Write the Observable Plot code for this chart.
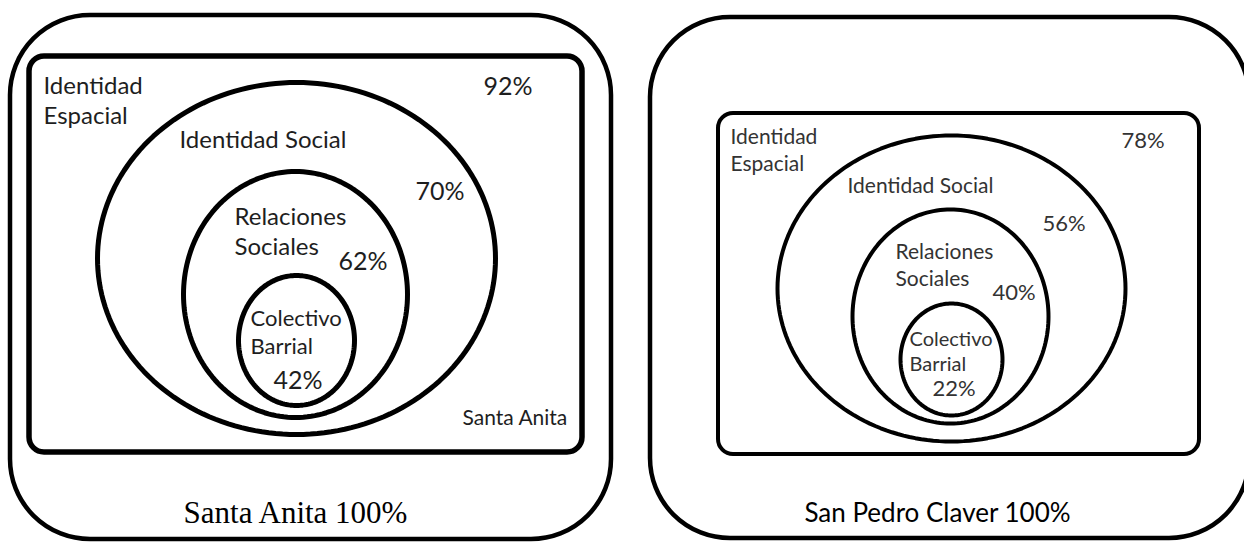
<!DOCTYPE html>
<html><head><meta charset="utf-8">
<script src="https://cdn.jsdelivr.net/npm/d3@7"></script>
<script src="https://cdn.jsdelivr.net/npm/@observablehq/plot@0.6"></script>
<style>body{margin:0;background:#fff}#chart svg{display:block}</style>
</head><body><div id="chart"></div>
<script>
// ---- data ----
const panels = ["Santa Anita", "San Pedro Claver"];
const levels = ["Identidad Espacial", "Identidad Social", "Relaciones Sociales", "Colectivo Barrial"];
const levelLabels = ["Identidad\nEspacial", "Identidad Social", "Relaciones\nSociales", "Colectivo\nBarrial"];
const santaAnitaValues = [92, 70, 62, 42];
const sanPedroValues = [78, 56, 40, 22];
const totalValue = 100;
const panelValues = [santaAnitaValues, sanPedroValues];
const innerTags = ["Santa Anita", ""];

// ---- layout (positions / sizes / styles) ----
const layout = [
  {
    frame: {x1: 10, y1: 15, x2: 611, y2: 539, r: 80, sw: 4.5},
    box: {x1: 29, y1: 56, x2: 582, y2: 452, r: 15, sw: 5.5},
    ell: [{cx: 296, cy: 258, rx: 199, ry: 176}, {cx: 295, cy: 294, rx: 112, ry: 123}, {cx: 296, cy: 340, rx: 58, ry: 65}],
    ellSw: 5,
    labelPos: [[43, 123], [179, 147], [234, 254], [250, 353]],
    labelSize: [24, 24, 24, 22],
    pctPos: [[483, 94], [415, 199], [338, 269], [273, 388]],
    pctSize: 25,
    tagPos: [462, 424], tagSize: 21,
    caption: {x: 295, y: 522, size: 31, font: "'Liberation Serif','Times New Roman',serif"},
    color: "#1e1e1e"
  },
  {
    frame: {x1: 650, y1: 17, x2: 1249, y2: 538, r: 80, sw: 4.5},
    box: {x1: 718, y1: 113, x2: 1199, y2: 454, r: 15, sw: 4},
    ell: [{cx: 951, cy: 288, rx: 174, ry: 153}, {cx: 950, cy: 316, rx: 98, ry: 107}, {cx: 951, cy: 359, rx: 51, ry: 56}],
    ellSw: 4,
    labelPos: [[730, 170], [847, 192], [895, 285], [909, 370]],
    labelSize: [21, 21, 21, 20],
    pctPos: [[1121, 147], [1042, 230], [992, 299], [932, 395]],
    pctSize: 22,
    tagPos: [0, 0], tagSize: 0,
    caption: {x: 937, y: 521, size: 26, font: "Lato, sans-serif"},
    color: "#333"
  }
];

const marks = [];
panels.forEach((p, i) => {
  const L = layout[i];
  const vals = panelValues[i];
  marks.push(Plot.rect([L.frame], {x1: "x1", x2: "x2", y1: "y1", y2: "y2", rx: L.frame.r, fill: "none", stroke: "#000", strokeWidth: L.frame.sw}));
  marks.push(Plot.rect([L.box], {x1: "x1", x2: "x2", y1: "y1", y2: "y2", rx: L.box.r, fill: "none", stroke: "#000", strokeWidth: L.box.sw}));
  const pts = [];
  L.ell.forEach((e, k) => {
    for (let t = 0; t < 180; t++) {
      const a = (t / 180) * 2 * Math.PI;
      pts.push({id: levels[k + 1], x: e.cx + e.rx * Math.cos(a), y: e.cy + e.ry * Math.sin(a)});
    }
  });
  marks.push(Plot.line(pts, {x: "x", y: "y", z: "id", curve: "linear-closed", stroke: "#000", strokeWidth: L.ellSw}));
  const labels = levels.map((lv, k) => ({text: levelLabels[k], x: L.labelPos[k][0], y: L.labelPos[k][1], size: L.labelSize[k]}));
  marks.push(Plot.text(labels, {x: "x", y: "y", text: "text", fontSize: "size", textAnchor: "start", lineAnchor: "bottom", lineHeight: 1.25, fontFamily: "Lato, sans-serif", fill: L.color}));
  const pcts = vals.map((v, k) => ({text: `${v}%`, x: L.pctPos[k][0], y: L.pctPos[k][1]}));
  marks.push(Plot.text(pcts, {x: "x", y: "y", text: "text", fontSize: L.pctSize, textAnchor: "start", lineAnchor: "bottom", fontFamily: "Lato, sans-serif", fill: L.color}));
  if (innerTags[i]) {
    marks.push(Plot.text([innerTags[i]], {x: () => L.tagPos[0], y: () => L.tagPos[1], text: d => d, fontSize: L.tagSize, textAnchor: "start", lineAnchor: "bottom", fontFamily: "Lato, sans-serif", fill: L.color}));
  }
  marks.push(Plot.text([`${p} ${totalValue}%`], {x: () => L.caption.x, y: () => L.caption.y, text: d => d, fontSize: L.caption.size, textAnchor: "middle", lineAnchor: "bottom", fontFamily: L.caption.font, fill: "#000"}));
});

const chart = Plot.plot({
  width: 1244, height: 543, margin: 0,
  x: {domain: [0, 1244], range: [0, 1244], axis: null},
  y: {domain: [0, 543], range: [0, 543], axis: null},
  marks
});
document.getElementById("chart").append(chart);
</script>
</body></html>
